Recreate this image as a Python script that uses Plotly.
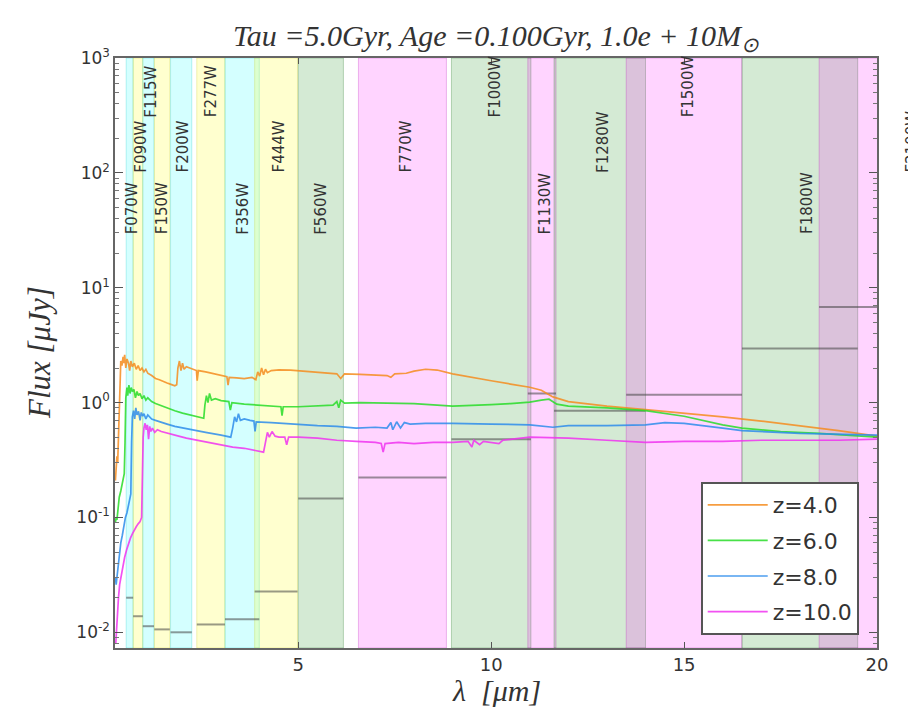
import math
import plotly.graph_objects as go

# ---------------- data ----------------
filt_names = ["F070W", "F090W", "F115W", "F150W", "F200W", "F277W", "F356W", "F444W",
              "F560W", "F770W", "F1000W", "F1130W", "F1280W", "F1500W", "F1800W", "F2100W"]
filt_lo = [0.54, 0.72, 0.97, 1.27, 1.69, 2.37, 3.10, 3.87,
           5.00, 6.56, 8.97, 10.95, 11.63, 13.50, 16.50, 18.50]
filt_hi = [0.72, 0.97, 1.26, 1.67, 2.24, 3.10, 3.99, 4.98,
           6.17, 8.84, 11.03, 11.68, 14.00, 16.50, 19.50, 23.50]
filt_center = [0.69, 0.92, 1.19, 1.49, 2.00, 2.76, 3.58, 4.49,
               5.60, 7.78, 10.10, 11.40, 12.90, 15.10, 18.20, 20.90]
filt_limit = [0.020, 0.0138, 0.0113, 0.0106, 0.0100, 0.0117, 0.0130, 0.0227,
              0.146, 0.223, 0.48, 1.20, 0.85, 1.17, 2.95, 6.8]
filt_kind = ["c", "y", "c", "y", "c", "y", "c", "y",
             "g", "m", "g", "m", "g", "m", "g", "m"]

spec_z4 = [(0.26,0.21),(0.28,0.26),(0.30,0.34),(0.32,0.30),(0.34,0.55),(0.36,1.2),(0.38,1.9),
           (0.40,2.3),(0.43,2.1),(0.46,2.5),(0.48,2.2),(0.50,2.6),(0.53,2.0),(0.56,2.4),(0.60,2.2),
           (0.63,1.9),(0.66,2.3),(0.70,2.05),(0.75,2.2),(0.80,1.95),(0.85,2.1),(0.90,1.9),(0.95,2.0),
           (1.00,1.85),(1.05,1.95),(1.10,1.8),(1.20,1.72),(1.30,1.62),(1.40,1.58),(1.50,1.52),
           (1.60,1.48),(1.70,1.44),(1.80,1.40),(1.85,1.43),(1.88,2.0),(1.92,2.3),(1.96,1.9),
           (2.00,2.2),(2.04,1.95),(2.10,2.05),(2.20,1.98),(2.30,1.93),(2.36,1.9),(2.38,1.55),
           (2.41,1.9),(2.60,1.85),(2.80,1.78),(3.00,1.72),(3.15,1.68),(3.18,1.42),(3.21,1.66),
           (3.40,1.64),(3.60,1.62),(3.80,1.66),(3.90,1.58),(3.95,1.85),(4.00,1.7),(4.05,2.0),
           (4.10,1.75),(4.15,1.95),(4.20,1.82),(4.30,1.9),(4.50,1.93),(4.80,1.92),(5.00,1.9),
           (5.50,1.85),(6.00,1.78),(6.10,1.62),(6.20,1.78),(6.60,1.76),(7.00,1.74),(7.30,1.72),
           (7.40,1.66),(7.50,1.78),(7.80,1.8),(8.00,1.88),(8.30,1.95),(8.60,1.92),(9.00,1.78),
           (9.50,1.65),(10.00,1.55),(10.50,1.45),(11.00,1.36),(11.30,1.28),(11.60,1.12),
           (12.00,1.02),(12.50,0.97),(13.00,0.93),(14.00,0.87),(15.00,0.81),(16.00,0.75),
           (17.00,0.69),(18.00,0.63),(19.00,0.57),(20.00,0.51)]

spec_z6 = [(0.26,0.09),(0.28,0.10),(0.30,0.095),(0.33,0.12),(0.36,0.15),(0.40,0.17),(0.43,0.19),
           (0.46,0.21),(0.49,0.24),(0.51,0.45),(0.53,1.1),(0.56,1.35),(0.58,1.15),(0.61,1.42),
           (0.64,1.2),(0.67,1.35),(0.70,1.25),(0.74,1.3),(0.78,1.1),(0.82,1.25),(0.86,1.15),
           (0.90,1.2),(0.95,1.08),(1.00,1.15),(1.05,1.05),(1.10,1.1),(1.20,1.02),(1.30,0.98),
           (1.40,0.95),(1.50,0.92),(1.60,0.90),(1.80,0.85),(2.00,0.81),(2.20,0.78),(2.40,0.75),
           (2.55,0.73),(2.58,0.95),(2.62,1.15),(2.66,1.0),(2.70,1.2),(2.75,1.05),(2.85,1.08),
           (3.00,1.04),(3.20,1.02),(3.24,0.86),(3.28,1.0),(3.60,0.97),(3.90,0.95),(4.20,0.93),
           (4.55,0.92),(4.58,0.77),(4.61,0.92),(5.00,0.92),(5.50,0.93),(5.90,0.95),(6.00,1.02),
           (6.05,0.90),(6.10,1.05),(6.20,0.99),(6.60,1.0),(7.00,0.99),(8.00,0.98),(9.00,0.93),
           (9.50,0.94),(10.00,0.96),(10.50,0.98),(11.00,1.01),(11.30,1.05),(11.50,1.07),
           (11.70,0.97),(12.00,0.93),(13.00,0.90),(14.00,0.85),(15.00,0.76),(16.00,0.64),
           (16.50,0.60),(17.50,0.56),(18.50,0.54),(20.00,0.50)]

spec_z8 = [(0.26,0.03),(0.28,0.026),(0.30,0.03),(0.33,0.038),(0.36,0.05),(0.40,0.06),(0.44,0.07),
           (0.48,0.085),(0.52,0.10),(0.56,0.11),(0.60,0.13),(0.64,0.15),(0.66,0.16),(0.68,0.45),
           (0.70,0.75),(0.73,0.85),(0.76,0.72),(0.79,0.9),(0.82,0.78),(0.86,0.84),(0.90,0.70),
           (0.93,0.82),(0.97,0.76),(1.00,0.80),(1.05,0.72),(1.10,0.78),(1.20,0.72),(1.30,0.70),
           (1.40,0.68),(1.60,0.65),(1.80,0.62),(2.00,0.60),(2.30,0.57),(2.60,0.55),(3.00,0.52),
           (3.25,0.50),(3.30,0.60),(3.35,0.75),(3.40,0.68),(3.45,0.80),(3.50,0.70),(3.60,0.72),
           (3.75,0.70),(3.85,0.69),(3.88,0.56),(3.91,0.68),(4.30,0.67),(4.80,0.65),(5.00,0.64),
           (5.50,0.63),(6.00,0.62),(6.50,0.60),(7.00,0.61),(7.30,0.60),(7.40,0.67),(7.45,0.58),
           (7.55,0.68),(7.65,0.60),(7.75,0.67),(7.90,0.65),(8.30,0.66),(9.00,0.66),(10.00,0.65),
           (11.00,0.64),(11.60,0.61),(12.00,0.63),(13.00,0.63),(14.00,0.64),(14.50,0.67),
           (15.00,0.66),(16.00,0.60),(16.50,0.57),(18.00,0.54),(20.00,0.52)]

spec_z10 = [(0.27,0.008),(0.29,0.011),(0.31,0.015),(0.34,0.02),(0.37,0.026),(0.40,0.03),
            (0.45,0.038),(0.50,0.045),(0.55,0.052),(0.60,0.06),(0.65,0.066),(0.70,0.072),
            (0.75,0.078),(0.80,0.083),(0.85,0.088),(0.90,0.092),(0.94,0.10),(0.96,0.25),
            (0.98,0.50),(1.00,0.60),(1.03,0.66),(1.06,0.58),(1.09,0.64),(1.12,0.48),(1.15,0.62),
            (1.18,0.56),(1.22,0.60),(1.28,0.55),(1.35,0.58),(1.45,0.56),(1.55,0.55),(1.70,0.53),
            (1.90,0.51),(2.10,0.49),(2.40,0.47),(2.70,0.45),(3.00,0.43),(3.30,0.41),(3.60,0.40),
            (3.90,0.38),(4.10,0.37),(4.15,0.45),(4.20,0.55),(4.25,0.50),(4.32,0.56),(4.40,0.51),
            (4.50,0.50),(4.65,0.50),(4.70,0.43),(4.75,0.50),(5.00,0.50),(5.50,0.49),(6.00,0.47),
            (6.50,0.46),(7.00,0.45),(7.15,0.44),(7.20,0.37),(7.25,0.44),(7.60,0.45),(8.00,0.44),
            (8.50,0.45),(9.00,0.45),(9.40,0.46),(9.50,0.41),(9.55,0.47),(9.70,0.43),(9.80,0.46),
            (10.20,0.44),(10.30,0.47),(11.00,0.50),(12.00,0.49),(13.00,0.47),(14.00,0.45),
            (15.00,0.46),(16.00,0.46),(17.00,0.47),(18.00,0.47),(19.00,0.47),(20.00,0.48)]

series_names = ["z=4.0", "z=6.0", "z=8.0", "z=10.0"]
series_data = [spec_z4, spec_z6, spec_z8, spec_z10]

y_ticks = [0.01, 0.1, 1, 10, 100, 1000]
y_ticktext = ["10<sup>-2</sup>", "10<sup>-1</sup>", "10<sup>0</sup>",
              "10<sup>1</sup>", "10<sup>2</sup>", "10<sup>3</sup>"]
x_ticks = [5, 10, 15, 20]

# ---------------- styles ----------------
X_RANGE = [0.25, 20.0]
Y_MIN, Y_MAX = 0.0073, 1000.0
series_colors = ["rgba(245,140,30,0.85)", "rgba(40,220,40,0.85)",
                 "rgba(45,140,235,0.85)", "rgba(240,50,240,0.85)"]
band_fill = {"c": "rgba(0,255,255,0.17)", "y": "rgba(255,255,0,0.19)",
             "g": "rgba(0,128,0,0.17)", "m": "rgba(255,0,255,0.17)"}
band_edge = {"c": "rgba(0,200,200,0.25)", "y": "rgba(200,200,0,0.25)",
             "g": "rgba(0,100,0,0.25)", "m": "rgba(180,0,180,0.25)"}
label_levels = [28, 96, 292]
label_cycle = [0, 1, 2, 0, 1, 2, 0, 1, 0, 1, 2, 0, 1, 2, 0, 1]

fig = go.Figure()

# filter bands
for lo, hi, kind in zip(filt_lo, filt_hi, filt_kind):
    fig.add_shape(type="rect", xref="x", yref="paper", x0=lo, x1=hi, y0=0, y1=1,
                  fillcolor=band_fill[kind], line=dict(color=band_edge[kind], width=1),
                  layer="below")

# filter limit segments
lx, ly = [], []
for lo, hi, lim in zip(filt_lo, filt_hi, filt_limit):
    lx += [lo, hi, None]
    ly += [lim, lim, None]
fig.add_trace(go.Scatter(x=lx, y=ly, mode="lines", showlegend=False, hoverinfo="skip",
                         line=dict(color="rgba(70,70,70,0.55)", width=2)))

# spectra
for name, data, col in zip(series_names, series_data, series_colors):
    wl, fl = zip(*data)
    fig.add_trace(go.Scatter(x=list(wl), y=list(fl), mode="lines", name=name,
                             legendgroup=name,
                             line=dict(color=col, width=1.7)))

# filter labels
span = X_RANGE[1] - X_RANGE[0]
for name, xc, lv in zip(filt_names, filt_center, label_cycle):
    inside = X_RANGE[0] <= xc <= X_RANGE[1]
    fig.add_annotation(
        x=xc if inside else (xc - X_RANGE[0]) / span,
        xref="x" if inside else "paper",
        y=math.log10(label_levels[lv]), yref="y",
        text=name, showarrow=False, textangle=-90,
        xanchor="center", yanchor="bottom",
        font=dict(family="DejaVu Sans", size=15, color="#333333"))

# axis titles
fig.add_annotation(text="<i>λ  [μm]</i>", xref="paper", yref="paper", x=0.5, y=0.0,
                   yshift=-42, yanchor="middle", showarrow=False,
                   font=dict(family="Liberation Serif", size=30, color="#333333"))
fig.add_annotation(text="<i>Flux [μJy]</i>", xref="paper", yref="paper", x=-0.0997, y=0.5,
                   textangle=-90, showarrow=False, xanchor="center", yanchor="middle",
                   font=dict(family="Liberation Serif", size=31, color="#333333"))

minor_vals = [k * 10 ** e for e in range(-3, 3) for k in range(2, 10)]

# the page body adds an 8px offset, so the figure is 8px smaller
fig.update_layout(
    width=908, height=706,
    margin=dict(l=107, r=39, t=50, b=66),
    paper_bgcolor="white", plot_bgcolor="white",
    title=dict(text="<i>Tau =5.0Gyr, Age =0.100Gyr, 1.0e + 10M<sub>⊙</sub></i>",
               x=0.5, xref="paper", xanchor="center", y=1 - 27 / 706, yref="container",
               yanchor="middle",
               font=dict(family="Liberation Serif", size=30, color="#333333")),
    xaxis=dict(range=X_RANGE, tickvals=x_ticks, ticks="inside", ticklen=6,
               tickcolor="#555555", showline=True, linecolor="#666666", linewidth=1.5,
               mirror="ticks", showgrid=False, zeroline=False,
               tickfont=dict(family="DejaVu Sans", size=18, color="#333333")),
    yaxis=dict(type="log", range=[math.log10(Y_MIN), math.log10(Y_MAX)],
               tickvals=y_ticks, ticktext=y_ticktext, ticks="inside", ticklen=8,
               tickcolor="#555555", showline=True, linecolor="#666666", linewidth=1.5,
               mirror="ticks", showgrid=False, zeroline=False,
               tickfont=dict(family="DejaVu Sans", size=17, color="#333333"),
               minor=dict(tickmode="array", tickvals=minor_vals, ticks="inside",
                          ticklen=4, tickcolor="#777777", showgrid=False)),
    legend=dict(x=0.976, xanchor="right", y=0.022, yanchor="bottom",
                bgcolor="white", bordercolor="#555555", borderwidth=2,
                itemwidth=60, tracegroupgap=4,
                font=dict(family="DejaVu Sans", size=22, color="#333333")),
    showlegend=True,
)

fig.write_html("out.html")
